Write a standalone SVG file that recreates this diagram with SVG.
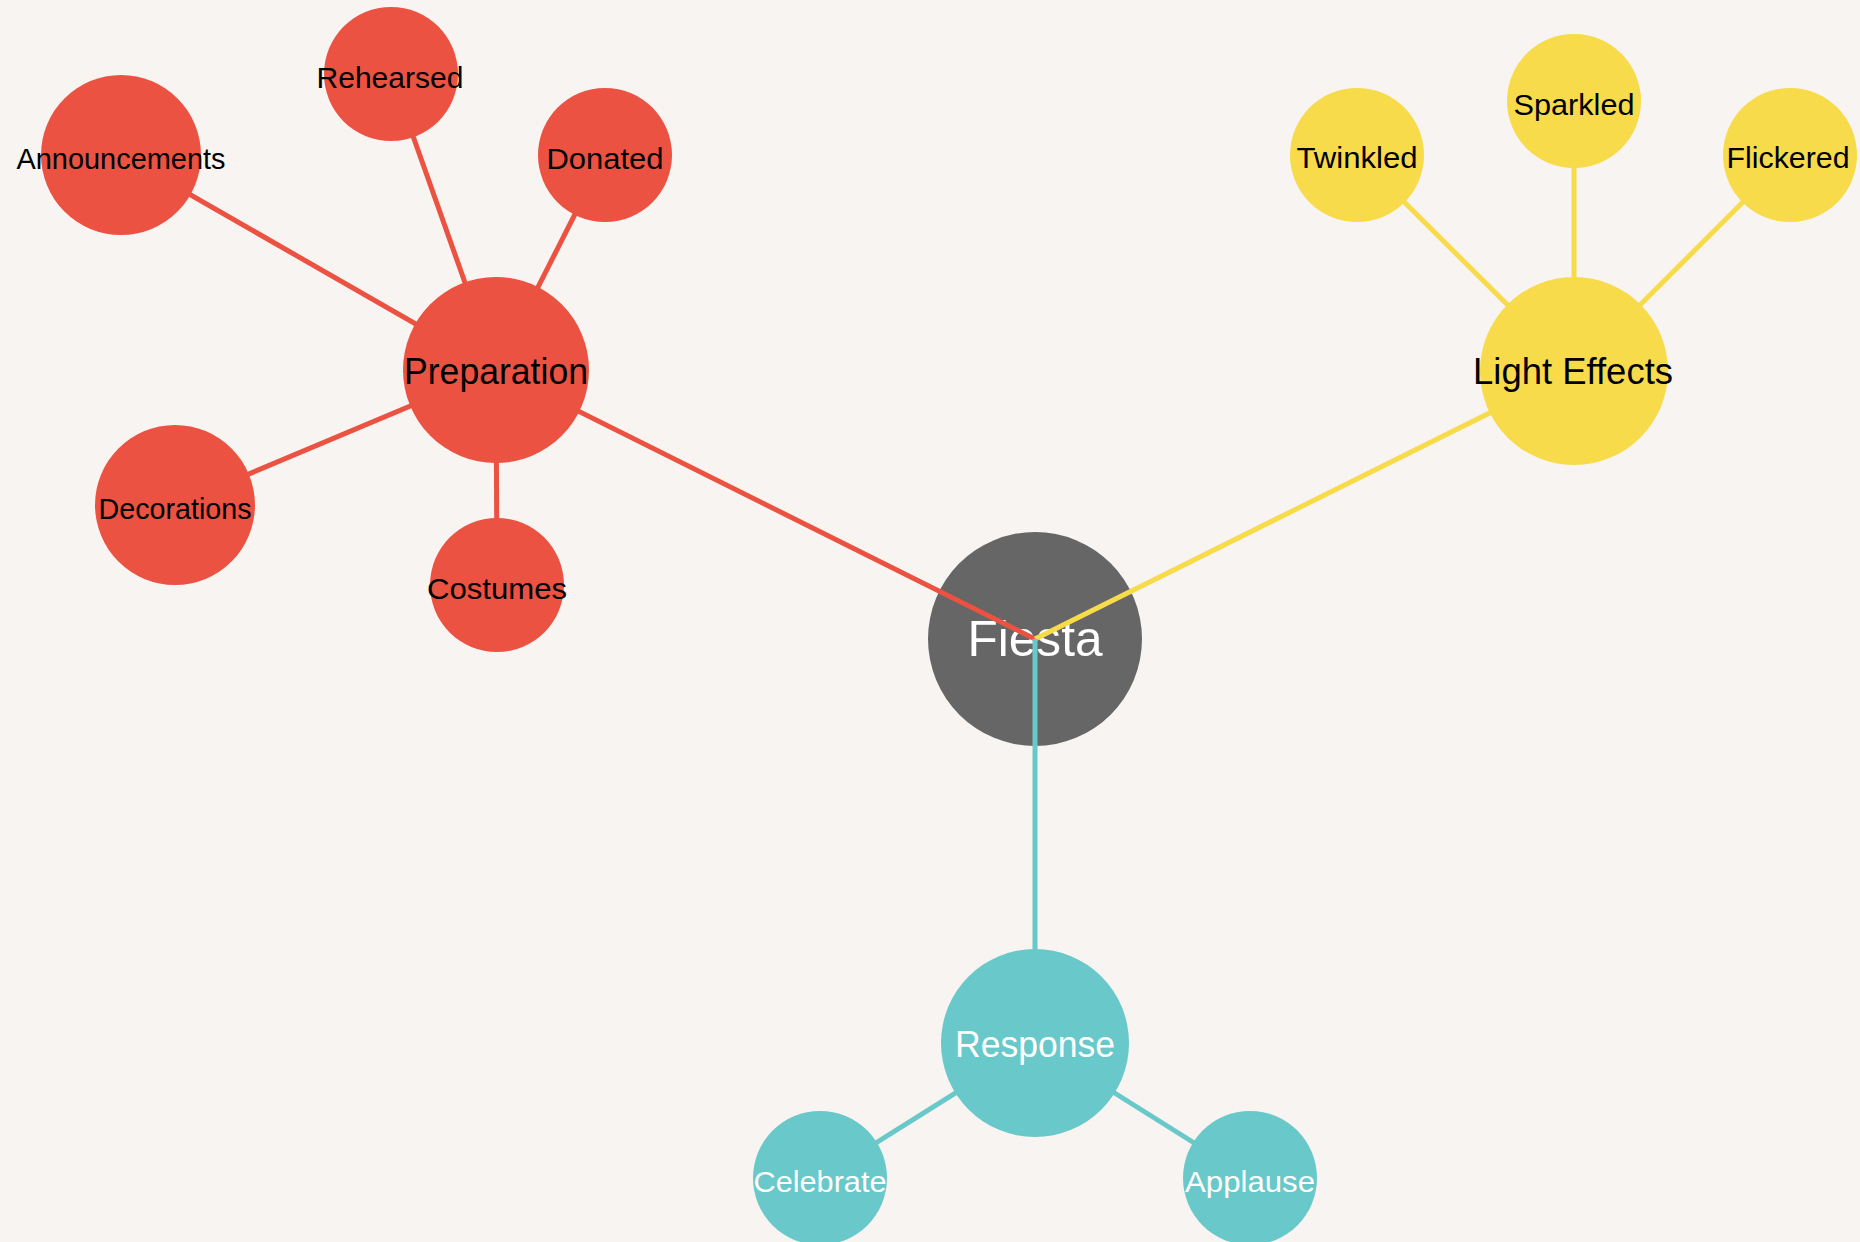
<svg xmlns="http://www.w3.org/2000/svg" width="1860" height="1242" viewBox="0 0 1860 1242">
<style>
.bg{fill:#F7F4F1}
.red{fill:#EB5242}
.yel{fill:#F7DB4A}
.teal{fill:#69C8C9}
.root{fill:#666666}
.lr{stroke:#EB5242;stroke-width:5;fill:none}
.ly{stroke:#F7DB4A;stroke-width:5;fill:none}
.lt{stroke:#69C8C9;stroke-width:5;fill:none}
text{font-family:"Liberation Sans",Arial,sans-serif;text-anchor:middle}
.big{font-size:36px}
.leaf{font-size:30px}
.dark{fill:#000}
.light{fill:#fff}
</style>
<rect class="bg" x="0" y="0" width="1860" height="1242"/>
<g id="node-fiesta">
<circle class="root" cx="1035" cy="639" r="107"/>
<text class="light" x="1035" y="656" style="font-size:50px" textLength="135" lengthAdjust="spacingAndGlyphs">Fiesta</text>
</g>
<g id="connectors">
<line class="lr" x1="496" y1="370" x2="1035" y2="639"/>
<line class="ly" x1="1574" y1="371" x2="1035" y2="639"/>
<line class="lt" x1="1035" y1="1043" x2="1035" y2="639"/>
<line class="lr" x1="496" y1="370" x2="121" y2="155"/>
<line class="lr" x1="496" y1="370" x2="391" y2="74"/>
<line class="lr" x1="496" y1="370" x2="605" y2="155"/>
<line class="lr" x1="496" y1="370" x2="175" y2="505"/>
<line class="lr" x1="496" y1="370" x2="497" y2="585"/>
<line class="ly" x1="1574" y1="371" x2="1357" y2="155"/>
<line class="ly" x1="1574" y1="371" x2="1574" y2="101"/>
<line class="ly" x1="1574" y1="371" x2="1790" y2="155"/>
<line class="lt" x1="1035" y1="1043" x2="820" y2="1178"/>
<line class="lt" x1="1035" y1="1043" x2="1250" y2="1178"/>
</g>
<g id="node-preparation">
<circle class="red" cx="496" cy="370" r="93"/>
<text class="dark big" x="496" y="384" textLength="184" lengthAdjust="spacingAndGlyphs">Preparation</text>
</g>
<g id="node-announcements">
<circle class="red" cx="121" cy="155" r="80"/>
<text class="dark leaf" x="121" y="169" textLength="209" lengthAdjust="spacingAndGlyphs">Announcements</text>
</g>
<g id="node-rehearsed">
<circle class="red" cx="391" cy="74" r="67"/>
<text class="dark leaf" x="390" y="88" textLength="147" lengthAdjust="spacingAndGlyphs">Rehearsed</text>
</g>
<g id="node-donated">
<circle class="red" cx="605" cy="155" r="67"/>
<text class="dark leaf" x="605" y="169" textLength="117" lengthAdjust="spacingAndGlyphs">Donated</text>
</g>
<g id="node-decorations">
<circle class="red" cx="175" cy="505" r="80"/>
<text class="dark leaf" x="175" y="519" textLength="153" lengthAdjust="spacingAndGlyphs">Decorations</text>
</g>
<g id="node-costumes">
<circle class="red" cx="497" cy="585" r="67"/>
<text class="dark leaf" x="497" y="599" textLength="140" lengthAdjust="spacingAndGlyphs">Costumes</text>
</g>
<g id="node-light-effects">
<circle class="yel" cx="1574" cy="371" r="94"/>
<text class="dark big" x="1573" y="384" textLength="200" lengthAdjust="spacingAndGlyphs">Light Effects</text>
</g>
<g id="node-twinkled">
<circle class="yel" cx="1357" cy="155" r="67"/>
<text class="dark leaf" x="1357" y="168" textLength="121" lengthAdjust="spacingAndGlyphs">Twinkled</text>
</g>
<g id="node-sparkled">
<circle class="yel" cx="1574" cy="101" r="67"/>
<text class="dark leaf" x="1574" y="115" textLength="121" lengthAdjust="spacingAndGlyphs">Sparkled</text>
</g>
<g id="node-flickered">
<circle class="yel" cx="1790" cy="155" r="67"/>
<text class="dark leaf" x="1788" y="168" textLength="123" lengthAdjust="spacingAndGlyphs">Flickered</text>
</g>
<g id="node-response">
<circle class="teal" cx="1035" cy="1043" r="94"/>
<text class="light big" x="1035" y="1057" textLength="160" lengthAdjust="spacingAndGlyphs">Response</text>
</g>
<g id="node-celebrate">
<circle class="teal" cx="820" cy="1178" r="67"/>
<text class="light leaf" x="820" y="1192" textLength="133" lengthAdjust="spacingAndGlyphs">Celebrate</text>
</g>
<g id="node-applause">
<circle class="teal" cx="1250" cy="1178" r="67"/>
<text class="light leaf" x="1250" y="1192" textLength="130" lengthAdjust="spacingAndGlyphs">Applause</text>
</g>
</svg>
